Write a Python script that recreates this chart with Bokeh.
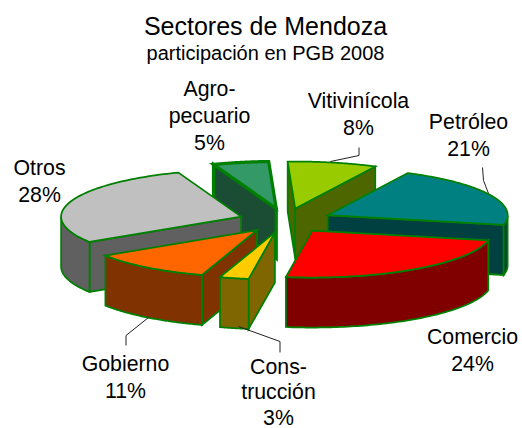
import numpy as np
from bokeh.plotting import figure
from bokeh.models import Range1d
from bokeh.core.properties import value
from bokeh.embed import file_html
from bokeh.resources import INLINE

# data: clockwise from the first slice
categories = ["Vitivinícola", "Petróleo", "Comercio", "Construcción", "Gobierno", "Otros", "Agropecuario"]
shares = [8, 21, 24, 2.6, 11, 28.4, 5]
top_colors = ["#99CC00", "#008080", "#FF0000", "#FFCC00", "#FF6600", "#C0C0C0", "#339966"]
side_colors = ["#4D6600", "#004040", "#800000", "#806600", "#803300", "#606060", "#1A4D33"]
edge_widths = [1.75, 1.75, 1.75, 1.75, 1.75, 1.75, 3.25]
draw_order = [6, 0, 5, 1, 4, 3, 2]

label_lines = [["Vitivinícola", "8%"], ["Petróleo", "21%"], ["Comercio", "24%"], ["Cons-", "trucción", "3%"],
               ["Gobierno", "11%"], ["Otros", "28%"], ["Agro-", "pecuario", "5%"]]
label_xy = [(358, 100), (468, 121), (472, 336), (278, 366), (125, 363), (39, 167), (209, 88)]
label_gap = [27.3, 27.3, 27.3, 25.5, 27.3, 27.3, 27.3]
leaders = [[(358.5, 147), (358.5, 155), (330, 161)], [(482, 167), (483, 180), (488, 193)],
           [(125.5, 345), (125.5, 335), (148, 317)], [(238, 326), (279.5, 341), (279.5, 352)]]

title = "Sectores de Mendoza"
subtitle = "participación en PGB 2008"

CX, CY, RX, RY, DEPTH, EXPLODE = 285.0, 220.0, 180.0, 47.0, 50.0, 0.26
START = -92.4
FONT = value("Liberation Sans")
EDGE = "#008000"

p = figure(width=522, height=428, output_backend="svg", toolbar_location=None,
           x_range=Range1d(0, 522), y_range=Range1d(428, 0), min_border=0)
p.axis.visible = False
p.grid.visible = False
p.outline_line_color = None

def ell(ox, oy, a):
    r = np.radians(a)
    return ox + RX * np.cos(r), oy + RY * np.sin(r)

bounds = START + np.concatenate([[0], np.cumsum(shares)]) * 3.6
for i in draw_order:
    a0, a1 = bounds[i], bounds[i + 1]
    mid = np.radians((a0 + a1) / 2)
    ox, oy = CX + EXPLODE * RX * np.cos(mid), CY + EXPLODE * RY * np.sin(mid)
    style = dict(line_color=EDGE, line_width=edge_widths[i], line_join="miter")
    xs, ys = ell(ox, oy, np.linspace(a0, a1, 80))
    # visible cut walls
    for edge_angle, show in ((a0, np.cos(np.radians(a0)) < 0), (a1, np.cos(np.radians(a1)) > 0)):
        if show:
            ex, ey = ell(ox, oy, edge_angle)
            p.patch([ox, ex, ex, ox], [oy, ey, ey + DEPTH, oy + DEPTH], fill_color=side_colors[i], **style)
    # outer wall where the rim faces the viewer
    mask = np.sin(np.radians(np.linspace(a0, a1, 80))) > 0
    if mask.any():
        fx, fy = xs[mask], ys[mask]
        p.patch(np.r_[fx, fx[::-1]], np.r_[fy, fy[::-1] + DEPTH], fill_color=side_colors[i], **style)
    p.patch(np.r_[ox, xs], np.r_[oy, ys], fill_color=top_colors[i], **style)

for pts in leaders:
    p.line([q[0] for q in pts], [q[1] for q in pts], line_color="#222222", line_width=1)

def txt(x, y, s, size):
    p.text([x], [y], text=[s], text_font=FONT, text_font_size=size, text_color="black",
           text_align="center", text_baseline="middle")

txt(265, 25, title, "25px")
txt(265, 52, subtitle, "20px")
for (x, y), lines, gap in zip(label_xy, label_lines, label_gap):
    for k, line in enumerate(lines):
        txt(x, y + k * gap, line, "21.3px")

open("out.html", "w").write(file_html(p, INLINE))
